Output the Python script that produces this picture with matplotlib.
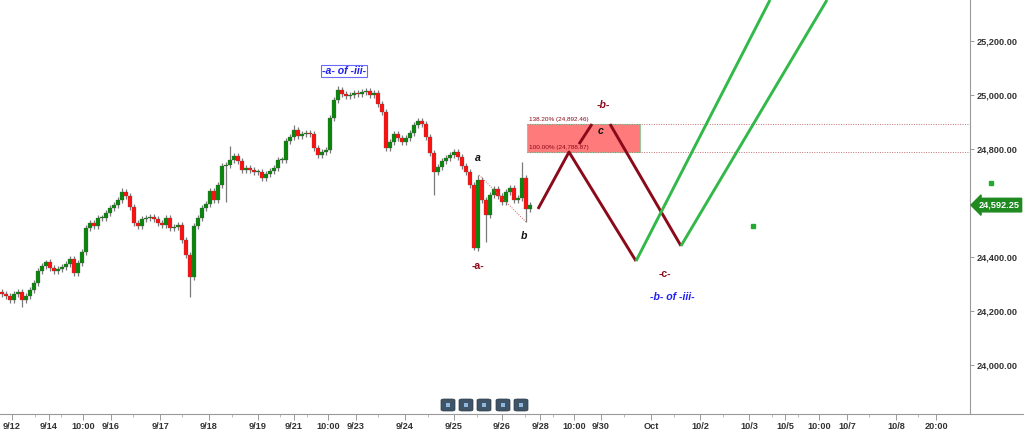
import matplotlib
matplotlib.use('Agg')
import matplotlib.pyplot as plt
from matplotlib.patches import Rectangle, FancyBboxPatch
import numpy as np

# ---------------- data ----------------
closes = [24263, 24256, 24241, 24263, 24270, 24241, 24256, 24278, 24304, 24348,
          24367, 24382, 24359, 24348, 24356, 24363, 24374, 24393, 24341, 24378,
          24419, 24507, 24526, 24515, 24544, 24544, 24563, 24582, 24593, 24611,
          24641, 24626, 24585, 24526, 24515, 24541, 24544, 24548, 24541, 24526,
          24519, 24544, 24507, 24511, 24519, 24463, 24407, 24326, 24515, 24544,
          24582, 24596, 24644, 24611, 24667, 24737, 24741, 24759, 24774, 24756,
          24722, 24730, 24722, 24715, 24715, 24693, 24707, 24719, 24730, 24759,
          24759, 24830, 24844, 24870, 24848, 24856, 24859, 24856, 24804, 24778,
          24789, 24796, 24915, 24982, 25019, 25004, 24996, 25000, 25007, 25004,
          25011, 25015, 25000, 25007, 24967, 24937, 24804, 24826, 24856, 24841,
          24826, 24841, 24859, 24889, 24904, 24893, 24844, 24785, 24715, 24733,
          24756, 24767, 24778, 24789, 24770, 24737, 24715, 24667, 24433, 24685,
          24611, 24556, 24630, 24652, 24626, 24604, 24641, 24656, 24611, 24619,
          24693, 24578, 24592.25]
first_open = 24270
spike_highs = {11: 24390, 30: 24656, 57: 24810, 73: 24889, 84: 25033,
               119: 24704, 130: 24752}
spike_lows = {5: 24215, 47: 24252, 56: 24604, 108: 24630, 118: 24426,
              121: 24456, 131: 24530}
last_price = 24592.25

fib_levels = [24892.46, 24788.87]
fib_names = ['138.20% (24,892.46)', '100.00% (24,788.87)']

# projected wave paths (time index, price)
proj1_t = [134.0, 141.75, 158.5]
proj1_p = [24578, 24788.87, 24385]
proj2a_t = [144.25, 147.5]
proj2a_p = [24818, 24892.46]
proj2b_t = [152.0, 169.75]
proj2b_p = [24892.46, 24441]
green1_t = [158.5, 192.0]
green1_p = [24385, 25352]
green2_t = [169.75, 206.25]
green2_p = [24441, 25352]
ab_line_t = [119.25, 131.0]
ab_line_p = [24704, 24530]
dots_t = [187.75, 247.25]
dots_p = [24515, 24674]

y_ticks = [24000, 24200, 24400, 24800, 25000, 25200]
x_tick_pos = [2.5, 11.75, 20.25, 27.25, 39.5, 51.75, 64, 73, 81.5, 88.5, 100.75,
              113, 125, 134.5, 143, 149.75, 162.25, 174.5, 186.75, 195.75,
              204.25, 211.25, 223.5, 233.5]
x_tick_labels = ['9/12', '9/14', '10:00', '9/16', '9/17', '9/18', '9/19', '9/21',
                 '10:00', '9/23', '9/24', '9/25', '9/26', '9/28', '10:00', '9/30',
                 'Oct', '10/2', '10/3', '10/5', '10:00', '10/7', '10/8', '20:00']
x_minor_pos = [8.25, 14.75, 32.75, 45, 57.5, 69.5, 76.25, 94, 106.5, 118.75,
               130.75, 137.75, 155.5, 168, 180.25, 192.5, 199, 216.75, 229]

# ---------------- figure ----------------
W, H = 1024, 430
fig = plt.figure(figsize=(W / 100, H / 100), dpi=100)
ax = fig.add_axes([0, 16 / H, 970 / W, 414 / H])
ax.set_xlim(-0.5, 242)
ax.set_ylim(23818.5, 25351.85)

FONT = 'Liberation Sans'
DARKRED = '#8b0a1a'
GREEN_L = '#33b84a'

opens = [first_open] + closes[:-1]
idx = np.arange(len(closes))
for i, (o, c) in enumerate(zip(opens, closes)):
    hi = spike_highs.get(i, max(o, c) + 10)
    lo = spike_lows.get(i, min(o, c) - 10)
    ax.vlines(i, lo, hi, color='#7a7a7a', lw=0.9, zorder=2)
body_bottom = [min(o, c) for o, c in zip(opens, closes)]
body_h = [max(abs(c - o), 4) for o, c in zip(opens, closes)]
body_col = ['#0a860a' if c >= o else '#ff1010' for o, c in zip(opens, closes)]
ax.bar(idx, body_h, bottom=body_bottom, width=0.85, color=body_col,
       edgecolor='#555555', linewidth=0.2, zorder=3)

# fib box
box_x0, box_x1 = 131.25, 159.5
ax.add_patch(Rectangle((box_x0, fib_levels[1]), box_x1 - box_x0,
                       fib_levels[0] - fib_levels[1], facecolor='#ff7a7a',
                       edgecolor='#9cc79c', lw=0.8, zorder=4))
for lev in fib_levels:
    ax.plot([box_x0, 242], [lev, lev], ls=(0, (1, 1.5)), color='#c07070',
            lw=0.7, zorder=4)
ax.text(131.7, fib_levels[0] + 18, fib_names[0], fontsize=4.6, color=DARKRED,
        family=FONT, va='center', ha='left', zorder=6)
ax.text(131.7, fib_levels[1] + 16, fib_names[1], fontsize=4.6, color=DARKRED,
        family=FONT, va='center', ha='left', zorder=6)

# projections
for t, p, col in [(proj1_t, proj1_p, DARKRED), (proj2a_t, proj2a_p, DARKRED),
                  (proj2b_t, proj2b_p, DARKRED), (green1_t, green1_p, GREEN_L),
                  (green2_t, green2_p, GREEN_L)]:
    ax.plot(t, p, color=col, lw=2.1, zorder=5, solid_capstyle='butt')
ax.plot(ab_line_t, ab_line_p, ls=(0, (1, 1.5)), color='#d06060', lw=0.7, zorder=4)
ax.plot(dots_t, dots_p, ls='none', marker='s', ms=2.2, color='#22aa33',
        clip_on=False, zorder=6)

# labels
ax.text(85.5, 25089, '-a- of -iii-', fontsize=7.6, color='#2020ee',
        fontweight='bold', style='italic', family=FONT, ha='center', va='center',
        bbox=dict(boxstyle='square,pad=0.12', fc='white', ec='#6b6bff', lw=0.8),
        zorder=7)
ax.text(119, 24366, '-a-', fontsize=7.6, color=DARKRED, fontweight='bold',
        family=FONT, ha='center', va='center')
ax.text(119, 24768, 'a', fontsize=7.6, color='#111111', fontweight='bold',
        style='italic', family=FONT, ha='center', va='center')
ax.text(130.5, 24478, 'b', fontsize=7.6, color='#111111', fontweight='bold',
        style='italic', family=FONT, ha='center', va='center')
ax.text(149.75, 24868, 'c', fontsize=7.6, color='#111111', fontweight='bold',
        style='italic', family=FONT, ha='center', va='center', zorder=7)
ax.text(150.25, 24963, '-b-', fontsize=7.6, color=DARKRED, fontweight='bold',
        style='italic', family=FONT, ha='center', va='center')
ax.text(165.75, 24337, '-c-', fontsize=7.6, color=DARKRED, fontweight='bold',
        family=FONT, ha='center', va='center')
ax.text(167.5, 24252, '-b- of -iii-', fontsize=7.6, color='#2020ee',
        fontweight='bold', style='italic', family=FONT, ha='center', va='center')

# axes styling
for s in ['top', 'left', 'bottom']:
    ax.spines[s].set_visible(False)
ax.spines['right'].set_color('#9a9a9a')
ax.spines['right'].set_linewidth(0.8)
ax.yaxis.tick_right()
ax.set_yticks(y_ticks)
ax.set_yticklabels([f'{v:,.2f}' for v in y_ticks], fontsize=6.6,
                   fontweight='bold', family=FONT, color='#333333')
ax.tick_params(axis='y', direction='out', length=3, width=0.7, color='#9a9a9a',
               pad=2)
ax.set_xticks(x_tick_pos)
ax.set_xticks(x_minor_pos, minor=True)
ax.set_xticklabels(x_tick_labels, fontsize=6.6, fontweight='bold', family=FONT,
                   color='#333333')
ax.tick_params(axis='x', which='major', direction='out', length=4, width=0.7,
               color='#9a9a9a', pad=2)
ax.tick_params(axis='x', which='minor', direction='out', length=2, width=0.6,
               color='#b0b0b0')

# bottom line across whole width
fig.add_artist(plt.Line2D([0, 1], [16 / H, 16 / H], color='#9a9a9a', lw=0.8,
                          transform=fig.transFigure))

# price tag
ax.annotate(f'{last_price:,.2f}', xy=(1.0, last_price),
            xycoords=('axes fraction', 'data'), xytext=(6, 0),
            textcoords='offset points', fontsize=6.6, fontweight='bold',
            family=FONT, color='white', va='center', ha='left',
            bbox=dict(boxstyle='larrow,pad=0.25', fc='#1f8a1f', ec='#1f8a1f'),
            annotation_clip=False, zorder=8)

# toolbar icons
for bx in [441, 459, 477, 496, 514]:
    fig.add_artist(FancyBboxPatch((bx / W, (430 - 411) / H), 14 / W, 12 / H,
                                  boxstyle='round,pad=0,rounding_size=0.003',
                                  transform=fig.transFigure, fc='#3f5466',
                                  ec='#2c3c4a', lw=0.5))
    fig.add_artist(Rectangle(((bx + 5) / W, (430 - 407) / H), 4 / W, 4 / H,
                             transform=fig.transFigure, fc='#8fb8e0', ec='none'))

fig.savefig('out.png', dpi=100)
